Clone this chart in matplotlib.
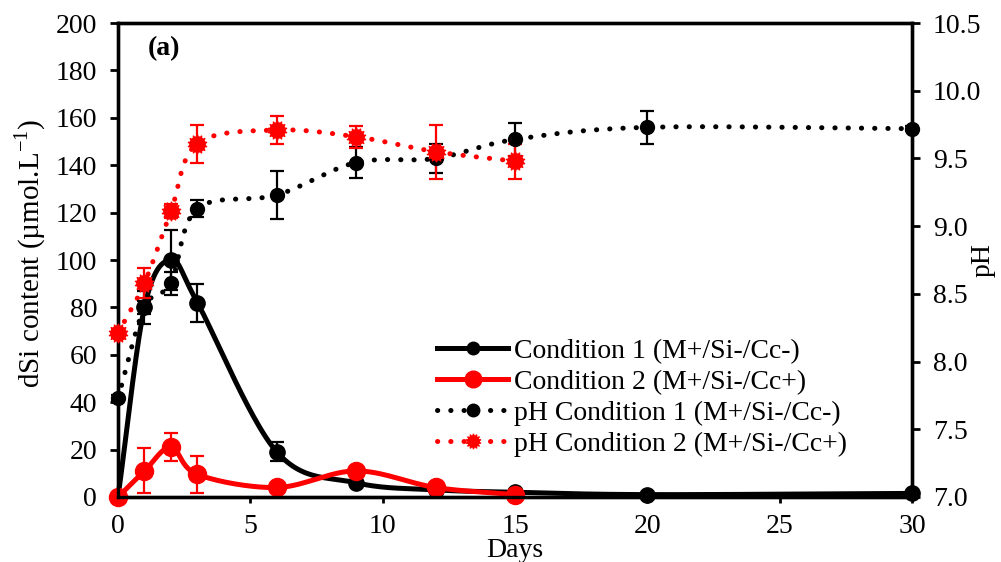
import numpy as np
import matplotlib
matplotlib.use("Agg")
import matplotlib.pyplot as plt
from matplotlib.lines import Line2D

plt.rcParams['font.family'] = ['Liberation Serif', 'DejaVu Serif']
plt.rcParams['mathtext.fontset'] = 'custom'
plt.rcParams['mathtext.rm'] = 'Liberation Serif'

# ---- data ----
days_c1 = [0, 1, 2, 3, 6, 9, 12, 15, 20, 30]
dsi_c1 = [0, 80, 100, 82, 19, 6, 3, 2, 1, 1.5]
dsi_c1_err = [0, 7, 12.5, 8, 4, 1, 1, 1, 0.5, 0.5]

days_c2 = [0, 1, 2, 3, 6, 9, 12, 15]
dsi_c2 = [0, 11, 21, 9.5, 4, 11, 4, 1]
dsi_c2_err = [0, 9.5, 6, 8, 1, 1, 1, 0.5]

ph_c1 = [7.73, 8.40, 8.58, 9.13, 9.23, 9.47, 9.50, 9.64, 9.73, 9.72]
ph_c1_err = [0.02, 0.05, 0.085, 0.065, 0.18, 0.115, 0.11, 0.12, 0.12, 0.02]

ph_c2 = [8.21, 8.58, 9.11, 9.61, 9.71, 9.66, 9.55, 9.48]
ph_c2_err = [0.03, 0.11, 0.05, 0.14, 0.1, 0.08, 0.2, 0.13]

x_ticks = [0, 5, 10, 15, 20, 25, 30]
y_ticks = [0, 20, 40, 60, 80, 100, 120, 140, 160, 180, 200]
ph_ticks = [7.0, 7.5, 8.0, 8.5, 9.0, 9.5, 10.0, 10.5]


def smooth(x, y, n=30):
    """Catmull-Rom curve through the data points (like Excel smoothed lines)."""
    x = np.asarray(x, float)
    y = np.asarray(y, float)
    P = np.column_stack([x, y])
    P = np.vstack([P[0] - (P[1] - P[0]), P, P[-1] + (P[-1] - P[-2])])
    out = []
    for i in range(1, len(P) - 2):
        p0, p1, p2, p3 = P[i - 1], P[i], P[i + 1], P[i + 2]
        t = np.linspace(0, 1, n)[:, None]
        pts = 0.5 * ((2 * p1) + (-p0 + p2) * t + (2 * p0 - 5 * p1 + 4 * p2 - p3) * t ** 2
                     + (-p0 + 3 * p1 - 3 * p2 + p3) * t ** 3)
        out.append(pts)
    pts = np.vstack(out)
    return pts[:, 0], pts[:, 1]


fig = plt.figure(figsize=(10.01, 5.62), dpi=100)
ax = fig.add_axes([0.1179, 0.1157, 0.7932, 0.8433])
ax2 = ax.twinx()

FS = 20
dotted = (0, (0.05, 2.6))
EB = dict(elinewidth=1.6, capsize=5, capthick=1.6, clip_on=False)

# dSi curves
sx, sy = smooth(days_c1, dsi_c1)
ax.plot(sx, sy, color='black', lw=3.6, solid_capstyle='round', zorder=3, clip_on=False)
ax.errorbar(days_c1, dsi_c1, yerr=dsi_c1_err, fmt='o', color='black', ms=11, zorder=4, **EB)
sx, sy = smooth(days_c2, dsi_c2)
ax.plot(sx, sy, color='red', lw=3.6, solid_capstyle='round', zorder=5, clip_on=False)
ax.errorbar(days_c2, dsi_c2, yerr=dsi_c2_err, fmt='o', color='red', ms=13, zorder=6, **EB)

# pH curves
sx, sy = smooth(days_c1, ph_c1)
ax2.plot(sx, sy, color='black', lw=3.6, ls=dotted, dash_capstyle='round', zorder=3, clip_on=False)
ax2.errorbar(days_c1, ph_c1, yerr=ph_c1_err, fmt='o', color='black', ms=10, zorder=4, **EB)
sx, sy = smooth(days_c2, ph_c2)
ax2.plot(sx, sy, color='red', lw=3.6, ls=dotted, dash_capstyle='round', zorder=3, clip_on=False)
ax2.errorbar(days_c2, ph_c2, yerr=ph_c2_err, fmt='none', ecolor='red', zorder=4, **EB)
ax2.plot(days_c2, ph_c2, ls='none', marker='o', color='red', ms=11, zorder=5, clip_on=False)
ax2.plot(days_c2, ph_c2, ls='none', marker=(14, 1, 0), color='red', ms=14, zorder=5, clip_on=False)

# axes
ax.set_xlim(0, 30)
ax.set_ylim(0, 200)
ax2.set_ylim(7.0, 10.5)
ax.set_xticks(x_ticks)
ax.set_yticks(y_ticks)
ax2.set_yticks(ph_ticks)
ax2.set_yticklabels([f"{v:.1f}" for v in ph_ticks])
for a in (ax, ax2):
    for s in a.spines.values():
        s.set_linewidth(2.4)
    a.tick_params(direction='out', length=6, width=2, labelsize=FS, pad=9)
ax.tick_params(axis='x', length=4, pad=8)

ax.set_xlabel('Days', fontsize=FS)
ax.xaxis.set_label_coords(0.5, -0.086)
ax.set_ylabel('dSi content (µmol.L$^{-1}$)', fontsize=21)
ax.yaxis.set_label_coords(-0.088, 0.515)
ax2.set_ylabel('pH', fontsize=FS, rotation=90)
ax2.yaxis.set_label_coords(1.074, 0.5)

ax.text(0.038, 0.945, '(a)', transform=ax.transAxes, fontsize=FS, fontweight='bold',
        ha='left', va='center')

handles = [
    Line2D([], [], color='black', lw=3.6, marker='o', ms=9),
    Line2D([], [], color='red', lw=3.6, marker='o', ms=12),
    Line2D([], [], color='black', lw=3.6, ls=dotted, dash_capstyle='round', marker='o', ms=9),
    (Line2D([], [], color='red', lw=3.6, ls=dotted, dash_capstyle='round', marker='o', ms=8),
     Line2D([], [], color='red', lw=0, marker=(14, 1, 0), ms=11)),
]
labels = ['Condition 1 (M+/Si-/Cc-)', 'Condition 2 (M+/Si-/Cc+)',
          'pH Condition 1 (M+/Si-/Cc-)', 'pH Condition 2 (M+/Si-/Cc+)']
leg = ax2.legend(handles, labels, loc='lower left', bbox_to_anchor=(0.402, 0.085),
                 frameon=False, fontsize=FS, handlelength=2.55, handletextpad=0.2,
                 labelspacing=0.2, borderaxespad=0, borderpad=0)
leg.set_zorder(10)

fig.savefig('out.png', dpi=100)
